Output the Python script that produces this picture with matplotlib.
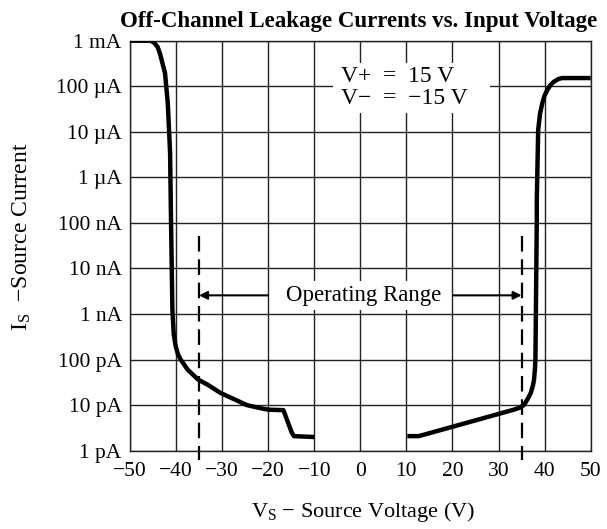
import numpy as np
import matplotlib
matplotlib.use("Agg")
import matplotlib.pyplot as plt
from matplotlib.patches import Rectangle

# данные: напряжение (В) и log10 тока (А)
left_v = [-50, -45.5, -44.7, -44.0, -43.5, -42.4, -41.8, -41.3, -41.1, -40.8,
          -40.5, -40.1, -39.6, -39.0, -37.5, -35.2, -33.0, -30.4, -24.6, -22.0,
          -20, -16.7, -14.9, -14.4, -10]
left_logi = [-3.0, -3.0, -3.05, -3.14, -3.28, -3.71, -4.37, -5.46, -6.93, -8.9,
             -9.45, -9.7, -9.88, -10.0, -10.22, -10.44, -10.56, -10.73, -11.0, -11.06,
             -11.1, -11.11, -11.6, -11.68, -11.7]

right_v = [10.2, 12.7, 33.3, 34.5, 35.5, 36.4, 37.0, 37.5, 37.7, 37.9,
           38.0, 38.3, 38.3, 38.6, 39.0, 39.5, 40.0, 40.6, 41.3, 42.0,
           43.0, 43.8, 50]
right_logi = [-11.68, -11.68, -11.1, -11.06, -11.0, -10.85, -10.73, -10.55, -10.44, -10.2,
              -10.0, -6.93, -6.5, -4.96, -4.6, -4.37, -4.2, -4.08, -3.97, -3.9,
              -3.84, -3.82, -3.82]

x_ticks = [-50, -40, -30, -20, -10, 0, 10, 20, 30, 40, 50]
x_labels = ['\u221250', '\u221240', '\u221230', '\u221220', '\u221210', '0',
            '10', '20', '30', '40', '50']
y_ticks = [1e-12, 1e-11, 1e-10, 1e-9, 1e-8, 1e-7, 1e-6, 1e-5, 1e-4, 1e-3]
y_labels = ['1 pA', '10 pA', '100 pA', '1 nA', '10 nA', '100 nA',
            '1 \u00b5A', '10 \u00b5A', '100 \u00b5A', '1 mA']

op_range = [-35, 35]

plt.rcParams['font.family'] = ['Liberation Serif', 'DejaVu Serif']
plt.rcParams['mathtext.fontset'] = 'custom'
plt.rcParams['mathtext.rm'] = 'Liberation Serif'
plt.rcParams['mathtext.it'] = 'Liberation Serif:italic'

fig = plt.figure(figsize=(6.07, 5.29), dpi=100)
ax = fig.add_axes([130 / 607, 1 - 450.7 / 529, 460.7 / 607, 410 / 529])

ax.set_xlim(-50, 50)
ax.set_ylim(1e-12, 1e-3)
ax.set_yscale('log')
ax.set_xticks(x_ticks)
ax.set_xticklabels(x_labels)
ax.set_yticks(y_ticks)
ax.set_yticklabels(y_labels)
ax.minorticks_off()
ax.tick_params(length=0, labelsize=15.5)
ax.tick_params(axis='y', pad=6)
ax.tick_params(axis='x', pad=8)
ax.grid(True, color='#222222', linewidth=1.0)
for s in ax.spines.values():
    s.set_color('#222222')
    s.set_linewidth(1.0)

ax.plot(left_v, 10 ** np.array(left_logi), color='black', lw=3.2,
        solid_joinstyle='round', solid_capstyle='butt', zorder=5)
ax.plot(right_v, 10 ** np.array(right_logi), color='black', lw=3.2,
        solid_joinstyle='round', solid_capstyle='butt', zorder=5)

# рабочий диапазон
for v in op_range:
    ax.plot([v, v], [10 ** -7.28, 10 ** -12.2], color='black', lw=1.6,
            dashes=(7, 3.5), clip_on=False, zorder=4)
ax.annotate('', xy=(op_range[0], 10 ** -8.59), xytext=(-20, 10 ** -8.59),
            arrowprops=dict(arrowstyle='-|>', color='black', lw=1.5, mutation_scale=12,
                            shrinkA=0, shrinkB=0), zorder=6)
ax.annotate('', xy=(op_range[1], 10 ** -8.59), xytext=(20.2, 10 ** -8.59),
            arrowprops=dict(arrowstyle='-|>', color='black', lw=1.5, mutation_scale=12,
                            shrinkA=0, shrinkB=0), zorder=6)
ax.text(0.7, 10 ** -8.59, 'Operating Range', fontsize=16.5, ha='center', va='center',
        bbox=dict(facecolor='white', edgecolor='none', pad=3), zorder=6)

# подпись с напряжениями питания на белой подложке
ax.add_patch(Rectangle((-5.9, 10 ** -4.585), 34.0, 10 ** -3.49 - 10 ** -4.585,
                       facecolor='white', edgecolor='none', zorder=3))
ax.text(-4.3, 10 ** -4.03, 'V+  =  15 V\nV\u2212  =  \u221215 V', fontsize=17,
        ha='left', va='center', linespacing=1.05, zorder=6)

fig.text(359 / 607, 1 - 22 / 529, 'Off-Channel Leakage Currents vs. Input Voltage',
         fontsize=16.5, fontweight='bold', ha='center', va='center')
fig.text(363 / 607, 1 - 512 / 529, 'V$_\\mathrm{S}$ \u2212 Source Voltage (V)',
         fontsize=16, ha='center', va='center')
fig.text(22 / 607, 1 - 237 / 529, 'I$_\\mathrm{S}$  \u2212Source Current',
         fontsize=17, ha='center', va='center', rotation=90)

fig.savefig('out.png', dpi=100)
